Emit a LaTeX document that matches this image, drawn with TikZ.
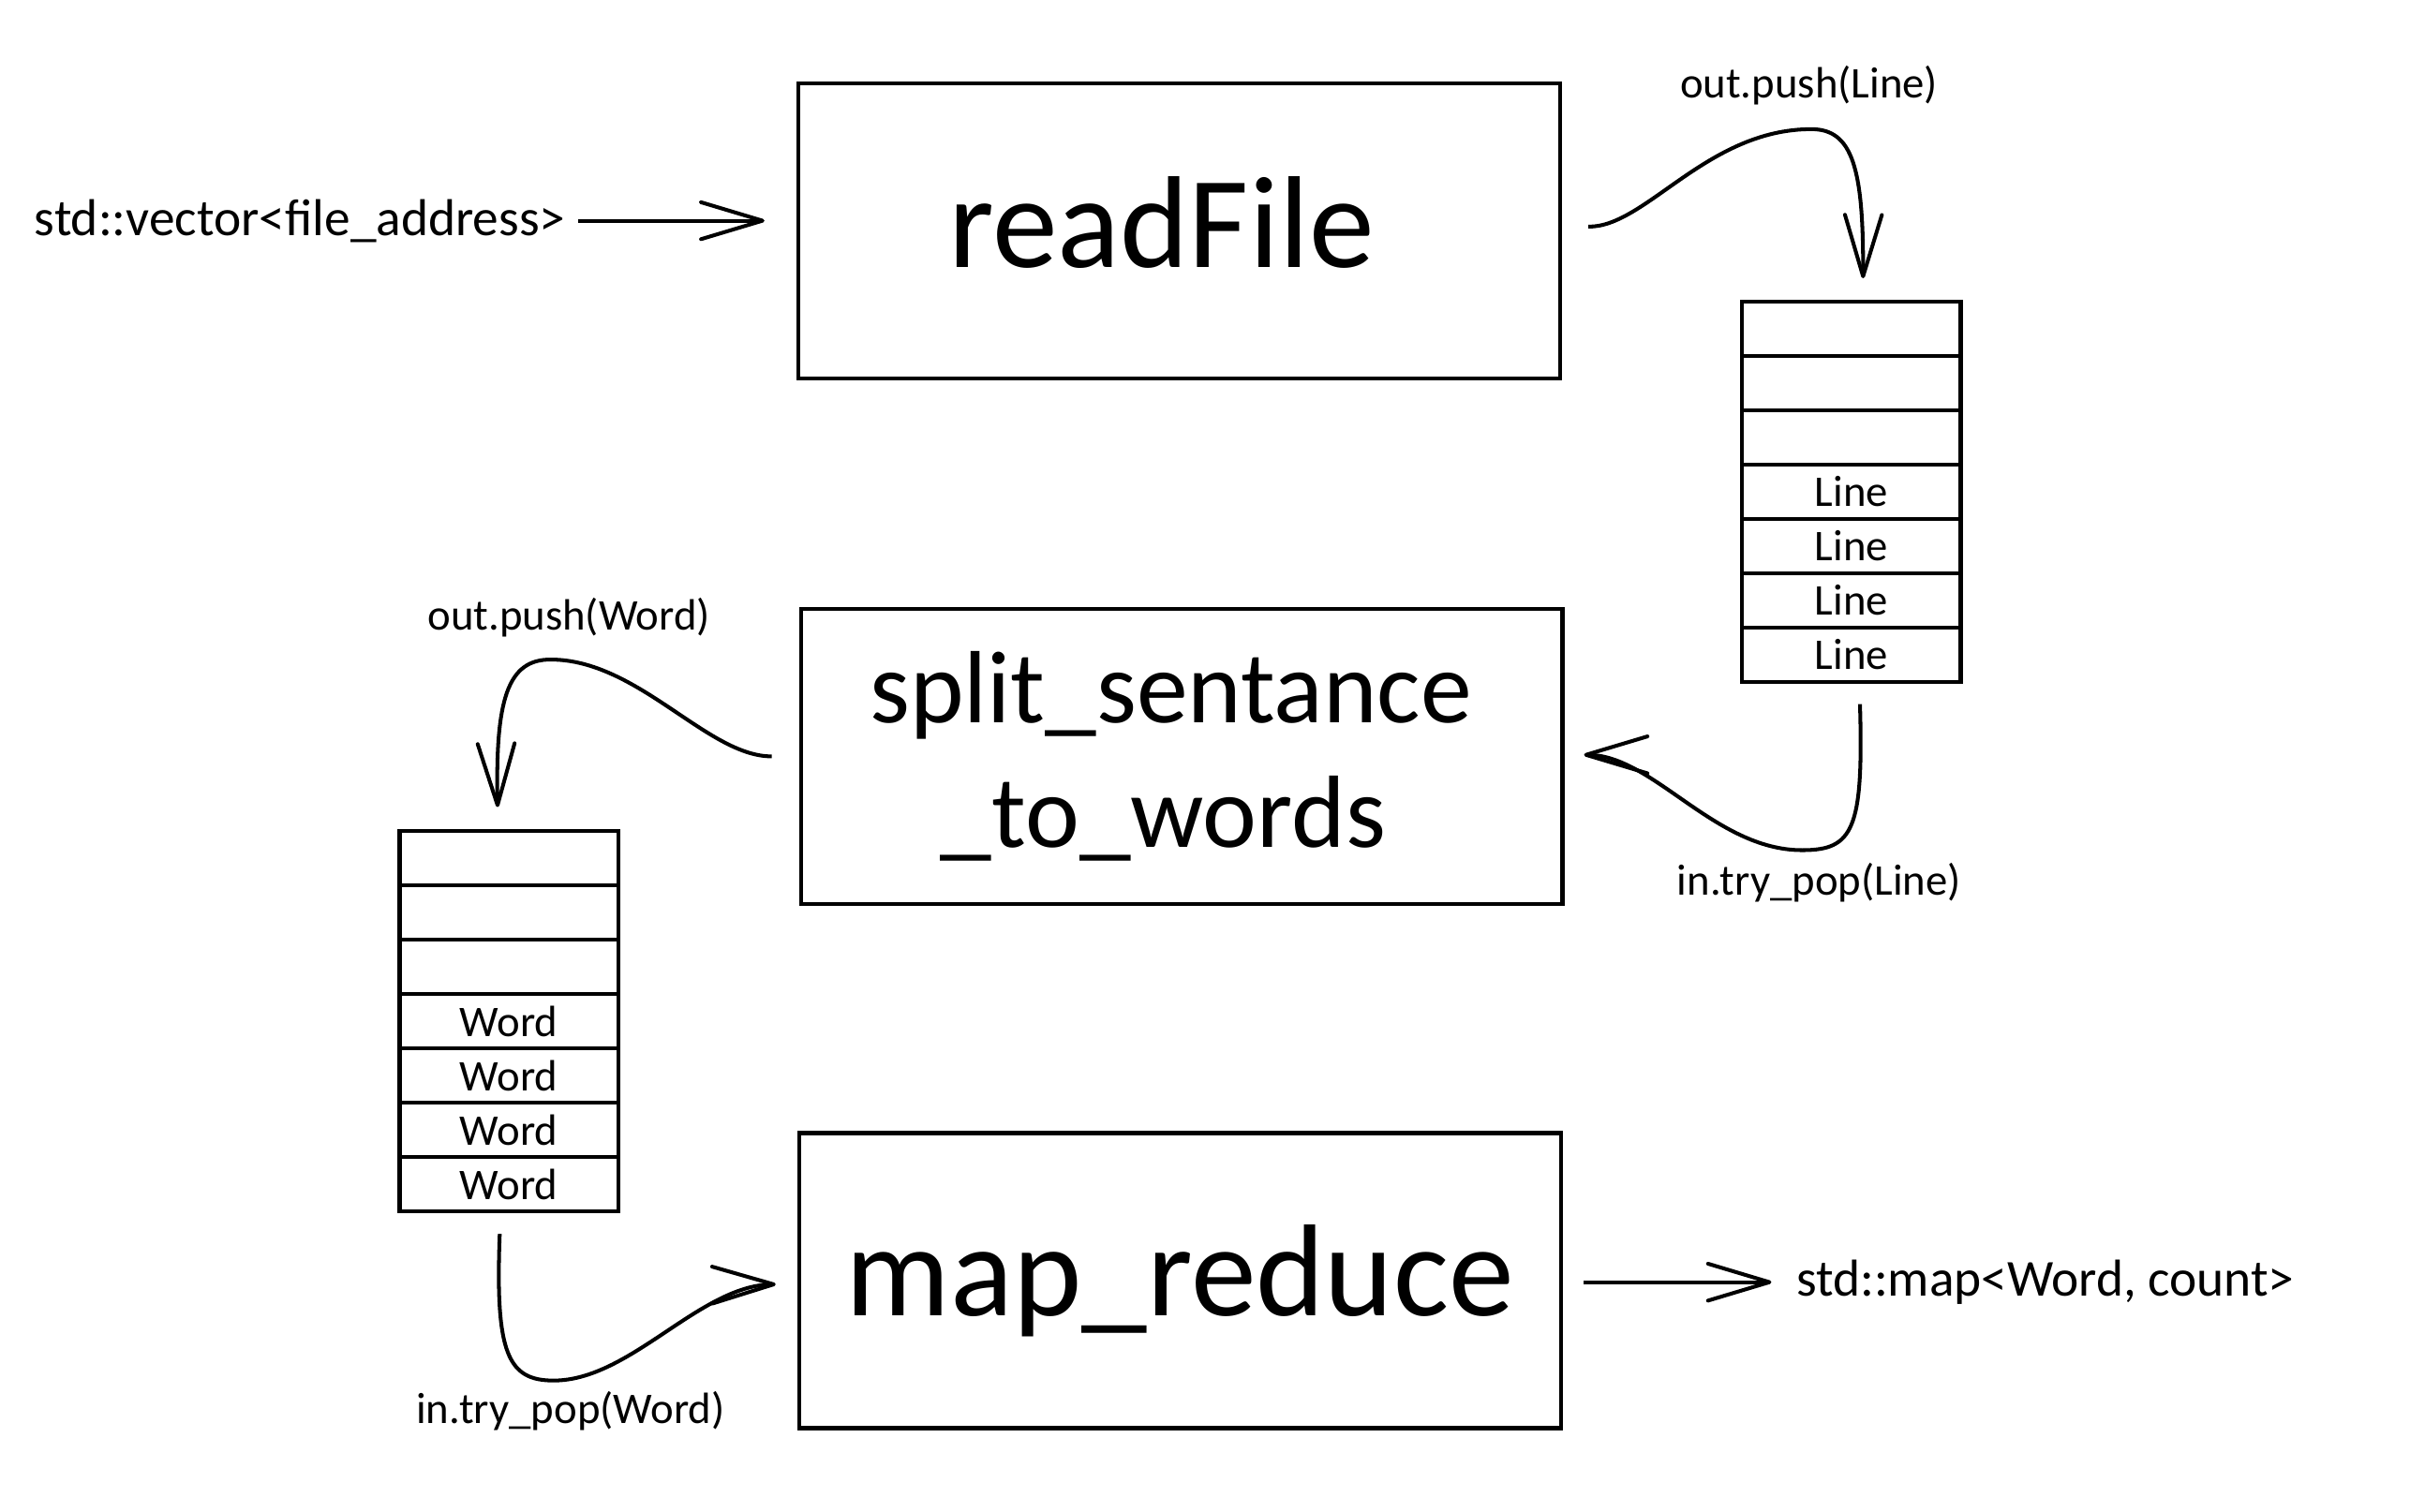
\documentclass[tikz,border=0pt]{standalone}
\usepackage{fontspec}
\setmainfont{Carlito}
\usetikzlibrary{arrows.meta}
\tikzstyle{proc} = [rectangle, draw, line width=0.75pt, minimum width=4.95cm, minimum height=1.92cm, inner sep=0pt, outer sep=0pt]
\tikzstyle{cell} = [rectangle, draw, line width=0.75pt, minimum width=1.42cm, minimum height=0.353cm, inner sep=0pt, outer sep=0pt, font=\fontsize{8.1}{9}\selectfont]
\tikzstyle{lbl} = [inner sep=0pt, anchor=base, font=\fontsize{8.1}{9}\selectfont]
\tikzstyle{io} = [inner sep=0pt, anchor=base west, font=\fontsize{9.6}{11}\selectfont]

\begin{document}
\begin{tikzpicture}[->,>={Straight Barb[length=4mm,width=2.4mm,round]},line width=0.7pt,x=0.01cm,y=-0.01cm]
  \useasboundingbox (0,0) rectangle (1567.3,983.5);
  \node[proc, font=\fontsize{24.2}{29}\selectfont, text height=0.47cm, text depth=0pt] (read) at (766.8,150.2) {readFile\kern0.23cm};
  \node[proc, font=\fontsize{19}{23}\selectfont, align=center] (split) at (768.5,492) {split\_sentance\kern0.14cm\\\_to\_words\kern0.24cm};
  \node[proc, font=\fontsize{24.2}{29}\selectfont] (map) at (767.4,833) {map\_reduce};

  \foreach \i/\t in {1/,2/,3/,4/Line,5/Line,6/Line,7/Line}
    \node[cell] (lq\i) at (1204,178.65+35.3*\i) {\t};
  \foreach \i/\t in {1/,2/,3/,4/Word,5/Word,6/Word,7/Word}
    \node[cell] (wq\i) at (331,522.8+35.35*\i) {\t};

  \node[io] (vec) at (21.3,153) {std::vector<file\_address>};
  \node[io] (res) at (1167,843) {std::map<Word, count>};
  \node[lbl] (pushl) at (1176.5,63.4) {out.push(Line)};
  \node[lbl] (popl) at (1183,582) {in.try\_pop(Line)};
  \node[lbl] (pushw) at (370,410) {out.push(Word)};
  \node[lbl] (popw) at (371,926) {in.try\_pop(Word)};

  \draw[shorten <=0.07cm, shorten >=0.22cm] (vec.east) -- (vec.east -| read.west);
  \draw ([xshift=0.185cm,yshift=0.028cm]read.east) .. controls (1070,148) and (1110,84) .. (1178,84)
    .. controls (1205,84) and (1212,110) .. ([xshift=0.076cm,yshift=0.153cm]lq1.north);
  \draw ([xshift=0.056cm,yshift=-0.146cm]lq7.south) .. controls (1212,540) and (1205,553) .. (1172,553)
    .. controls (1115,553) and (1075,491) .. ([xshift=0.14cm,yshift=0.01cm]split.east);
  \draw ([xshift=-0.19cm]split.west) .. controls (460,492) and (415,429) .. (358,429)
    .. controls (330,429) and (322,455) .. ([xshift=-0.074cm,yshift=0.155cm]wq1.north);
  \draw ([xshift=-0.06cm,yshift=-0.147cm]wq7.south) .. controls (322,880) and (330,898) .. (360,898)
    .. controls (410,898) and (455,836) .. ([xshift=-0.153cm,yshift=-0.024cm]map.west);
  \draw[shorten <=0.15cm, shorten >=0.15cm] (map.east |- res.west) -- (res.west);
\end{tikzpicture}
\end{document}
